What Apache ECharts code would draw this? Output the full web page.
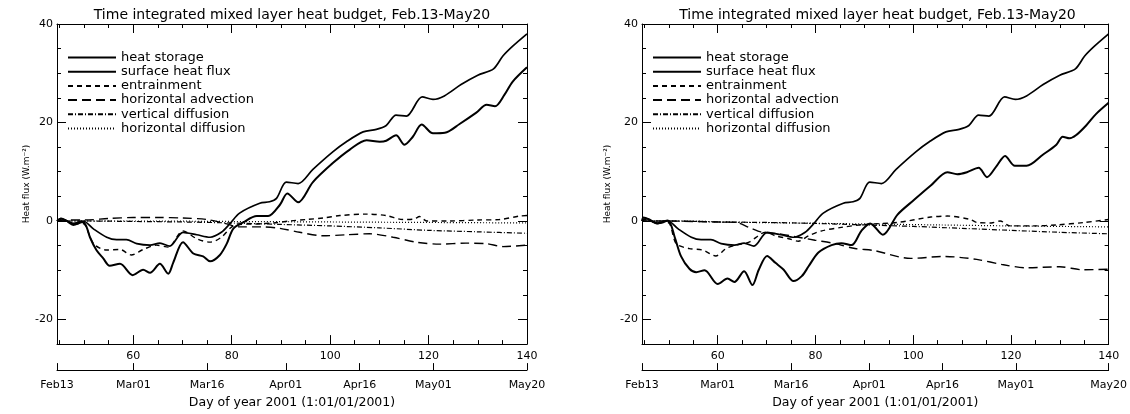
<!DOCTYPE html>
<html><head><meta charset="utf-8">
<script src="https://cdn.jsdelivr.net/npm/echarts@6/dist/echarts.min.js"></script>
<style>html,body{margin:0;padding:0;background:#fff}#c{width:1130px;height:414px}</style>
</head><body><div id="c"></div>
<script>
// ---------- tick / label arrays ----------
const titleText = 'Time integrated mixed layer heat budget, Feb.13-May20';
const yName = 'Heat flux (W.m\u207B\u00B2)';
const xName = 'Day of year 2001 (1:01/01/2001)';
const seriesNames = ['heat storage','surface heat flux','entrainment','horizontal advection','vertical diffusion','horizontal diffusion'];
const dayTicks = [60,80,100,120,140];
const dayMinorTicks = [45,50,55,65,70,75,85,90,95,105,110,115,125,130,135];
const yTicks = [-20,0,20,40];
const yMinorTicks = [-15,-10,-5,5,10,15,25,30,35];
const dateTickDays = [44.5,60,75,91,106,121,140];
const dateTickLabels = ['Feb13','Mar01','Mar16','Apr01','Apr16','May01','May20'];

// ---------- series (day, value) ----------
// surface heat flux (same in both panels)
const sfcDays = [44.5,45.3,46.5,47.8,49.8,51.9,54.6,56.6,58.6,60.7,63.4,65.4,67.4,70.1,72.9,75.6,77.9,79.6,81.6,85.7,87.7,89.1,91.1,93.5,96.5,100.6,103.3,106.7,109.4,111.4,113.4,115.5,118.7,120.9,123.2,126.6,130,133.2,135.1,137.1,140];
const sfcVals = [0,0.5,0,-0.5,0,-1.6,-3.3,-3.8,-3.8,-4.6,-4.9,-4.5,-5.1,-2.3,-2.8,-3.3,-2.3,-0.6,1.6,3.6,3.9,4.6,7.9,7.6,10.5,14.1,16.1,18.1,18.6,19.4,21.5,21.3,25.2,24.7,25.4,27.7,29.6,30.9,33.5,35.5,38.0];

// left panel
const hsLDays = [44.5,45.3,46.5,47.8,49.8,50.5,51.2,52.5,53.9,55.2,57.3,59.9,62,63.4,65.4,67.1,68.1,70.1,72.2,74.2,75.6,77.6,79,80.3,82.3,85.1,87.4,89.8,91.3,93.5,96.5,100.6,104,107.4,110.1,111.4,113.4,115.1,116.8,118.6,120.9,123.3,126.3,129.7,131.8,133.5,135.4,137.1,140];
const hsLVals = [0,0.5,0,-0.8,-0.2,-1.2,-3.3,-5.9,-7.6,-9.1,-8.7,-11.0,-9.9,-10.5,-8.7,-10.7,-8.5,-4.3,-6.6,-7.2,-8.2,-6.9,-4.6,-1.6,-0.3,1.0,1.0,3.3,5.6,3.8,7.9,11.8,14.5,16.4,16.1,16.3,17.4,15.5,17.1,19.6,17.8,17.9,19.7,22.0,23.6,23.3,25.6,28.3,31.2];
const entLDays = [44.5,45.5,47,48.5,49.8,51.9,54.6,57.3,59.6,62,64.7,67.1,70.1,72.9,75.6,77.9,79.9,81.6,85.1,88.5,91.8,95.2,98.6,102,107.4,111.4,114.8,117,118.2,119.6,124,130,134.4,138.5,140];
const entLVals = [0,0.4,-0.3,-0.6,-0.5,-4.6,-5.9,-5.8,-6.9,-5.8,-4.9,-5.3,-2.0,-3.6,-4.3,-3.3,-1.3,-0.7,-0.6,-0.4,0,0.3,0.6,1.1,1.4,1.1,0.3,0.4,0.9,0,0,0.2,0.3,1.0,1.1];
const hadvLDays = [44.5,47,50,55,60,65,70,75,79,81.6,86,89.8,93.8,98.5,103.3,108,112.8,117.5,122.2,127.6,131.7,135.1,140];
const hadvLVals = [0,0.2,0.2,0.5,0.7,0.7,0.6,0.3,-0.6,-1.2,-1.2,-1.5,-2.3,-3.0,-2.8,-2.6,-3.3,-4.3,-4.7,-4.5,-4.6,-5.2,-4.9];
const vdifLDays = [44.5,50,60,70,80,90,100,110,120,130,140];
const vdifLVals = [0,0,-0.1,-0.2,-0.4,-0.7,-1.0,-1.4,-1.9,-2.2,-2.5];
const hdifLDays = [44.5,60,80,100,120,140];
const hdifLVals = [0,0,-0.1,-0.2,-0.3,-0.4];

// right panel
const hsRDays = [44.5,44.8,46,47.5,49.8,51.2,52.5,54.2,55.6,57.3,60,62,63.4,65.4,67.1,68.4,70.1,71.8,73.5,75.5,77.2,78.6,80.6,83.3,85.3,87.4,89.4,91.2,93.8,96.8,100.2,103.6,107,109,111,113.4,115.1,117.1,118.8,120.8,123.2,126.6,129.3,130.6,132,133.3,135.4,137.4,140];
const hsRVals = [0,0.7,0.3,-0.5,0.1,-3.3,-7.2,-9.7,-10.4,-10.0,-12.8,-11.7,-12.4,-10.2,-13.0,-9.9,-7.1,-8.5,-9.9,-12.2,-11.2,-9.2,-6.4,-4.9,-4.5,-4.9,-2.0,-0.5,-2.8,1.3,4.3,7.2,9.9,9.5,9.9,10.8,8.9,11.2,13.2,11.2,11.2,13.5,15.5,17.1,16.8,17.4,19.4,21.7,24.0];
const entRDays = [44.5,45.5,47,49.8,51.5,54.2,56.9,59.6,61.7,63.7,66.4,69.8,71.8,74.5,76.5,78.6,81.3,85.3,90.1,96.8,103.6,107,111.7,113,116,117.8,119.8,125,129.3,135,140];
const entRVals = [0,0.4,-0.3,-0.3,-4.6,-5.6,-5.9,-7.1,-5.6,-4.9,-4.3,-2.3,-3.0,-3.6,-4.1,-3.0,-2.0,-1.3,-0.7,-0.3,0.8,1.0,0.3,-0.3,-0.4,0.0,-1.0,-1.0,-0.8,-0.3,0.3];
const hadvRDays = [44.5,50,55,60,63.7,66.4,69.1,72.5,75.9,79.9,84,88.1,92,99.5,106.3,113,118.5,123.2,130,134.7,140];
const hadvRVals = [0,0,-0.1,-0.2,-0.3,-1.3,-2.3,-2.6,-3.2,-3.9,-4.6,-5.6,-6.0,-7.6,-7.2,-7.8,-8.9,-9.5,-9.3,-9.9,-9.8];
const vdifRDays = [44.5,50,60,70,80,90,100,110,120,130,140];
const vdifRVals = [0,0,-0.2,-0.3,-0.5,-0.8,-1.1,-1.5,-1.9,-2.3,-2.6];
const hdifRDays = [44.5,55,60,75,90,105,120,140];
const hdifRVals = [0,0,-0.2,-0.4,-0.6,-0.8,-1.0,-1.2];

// ---------- build ----------
const FONT = '"DejaVu Sans", sans-serif';
const zip = (d, v) => d.map((x, i) => [x, v[i]]);
const styles = {
  'heat storage': {type: 'solid', width: 2},
  'surface heat flux': {type: 'solid', width: 1.7},
  'entrainment': {type: [5, 4], width: 1.4},
  'horizontal advection': {type: [9, 5], width: 1.4},
  'vertical diffusion': {type: [5, 2, 1, 2], width: 1.2},
  'horizontal diffusion': {type: [1, 2], width: 1.2}
};
const panels = [
  {left: 57, width: 470, data: [zip(hsLDays,hsLVals), zip(sfcDays,sfcVals), zip(entLDays,entLVals), zip(hadvLDays,hadvLVals), zip(vdifLDays,vdifLVals), zip(hdifLDays,hdifLVals)], nameGap: 26},
  {left: 642, width: 471, data: [zip(hsRDays,hsRVals), zip(sfcDays,sfcVals), zip(entRDays,entRVals), zip(hadvRDays,hadvRVals), zip(vdifRDays,vdifRVals), zip(hdifRDays,hdifRVals)], nameGap: 30}
];
const TOP = 24, HEIGHT = 329;
const black = {color: '#000', width: 1};
const grids = [], xAxes = [], yAxes = [], series = [], legends = [], graphics = [];
panels.forEach((p, g) => {
  grids.push({left: p.left, top: TOP, width: p.width, height: HEIGHT});
  const xb = {gridIndex: g, type: 'value', min: 44.5, max: 140, splitLine: {show: false}};
  xAxes.push(Object.assign({}, xb, {position: 'bottom', axisLine: {show: true, onZero: false, lineStyle: black},
    axisTick: {show: true, inside: true, length: 9, customValues: dayTicks, lineStyle: black},
    axisLabel: {show: true, customValues: dayTicks, margin: 7, color: '#000', fontSize: 11, fontFamily: FONT}}));
  xAxes.push(Object.assign({}, xb, {position: 'bottom', axisLine: {show: false, onZero: false},
    axisTick: {show: true, inside: true, length: 4, customValues: dayMinorTicks, lineStyle: black}, axisLabel: {show: false}}));
  xAxes.push(Object.assign({}, xb, {position: 'top', axisLine: {show: true, onZero: false, lineStyle: black},
    axisTick: {show: true, inside: true, length: 9, customValues: dayTicks, lineStyle: black}, axisLabel: {show: false}}));
  xAxes.push(Object.assign({}, xb, {position: 'top', axisLine: {show: false, onZero: false},
    axisTick: {show: true, inside: true, length: 4, customValues: dayMinorTicks, lineStyle: black}, axisLabel: {show: false}}));
  xAxes.push(Object.assign({}, xb, {position: 'bottom', offset: 26, axisLine: {show: true, onZero: false, lineStyle: black},
    axisTick: {show: true, inside: true, length: 7, customValues: dateTickDays, lineStyle: black},
    axisLabel: {show: true, customValues: dateTickDays, margin: 10, color: '#000', fontSize: 11, fontFamily: FONT,
      formatter: v => { const i = dateTickDays.indexOf(v); return i >= 0 ? dateTickLabels[i] : ''; }},
    name: xName, nameLocation: 'middle', nameGap: 25, nameTextStyle: {color: '#000', fontSize: 12.5, fontFamily: FONT}}));
  const yb = {gridIndex: g, type: 'value', min: -25, max: 40, splitLine: {show: false}};
  yAxes.push(Object.assign({}, yb, {position: 'left', axisLine: {show: true, onZero: false, lineStyle: black},
    axisTick: {show: true, inside: true, length: 9, customValues: yTicks, lineStyle: black},
    axisLabel: {show: true, customValues: yTicks, margin: 4, color: '#000', fontSize: 11, fontFamily: FONT},
    name: yName, nameLocation: 'middle', nameGap: p.nameGap, nameRotate: 90, nameTextStyle: {color: '#000', fontSize: 9, fontFamily: FONT}}));
  yAxes.push(Object.assign({}, yb, {position: 'left', axisLine: {show: false, onZero: false},
    axisTick: {show: true, inside: true, length: 4, customValues: yMinorTicks, lineStyle: black}, axisLabel: {show: false}}));
  yAxes.push(Object.assign({}, yb, {position: 'right', axisLine: {show: true, onZero: false, lineStyle: black},
    axisTick: {show: true, inside: true, length: 9, customValues: yTicks, lineStyle: black}, axisLabel: {show: false}}));
  yAxes.push(Object.assign({}, yb, {position: 'right', axisLine: {show: false, onZero: false},
    axisTick: {show: true, inside: true, length: 4, customValues: yMinorTicks, lineStyle: black}, axisLabel: {show: false}}));
  seriesNames.forEach((n, k) => {
    series.push({name: n, type: 'line', xAxisIndex: g * 5, yAxisIndex: g * 4, data: p.data[k],
      symbol: 'none', showSymbol: false, smooth: 0.3, silent: true,
      lineStyle: {color: '#000', width: styles[n].width, type: styles[n].type}, itemStyle: {color: '#000'}});
  });
  legends.push({data: seriesNames, orient: 'vertical', left: p.left + 10, top: 51, itemWidth: 48, itemHeight: 10,
    itemGap: 1.2, padding: 0, selectedMode: false, itemStyle: {opacity: 0},
    textStyle: {color: '#000', fontSize: 13, fontFamily: FONT}});
  graphics.push({type: 'text', x: p.left + p.width / 2, y: 15,
    style: {text: titleText, align: 'center', verticalAlign: 'middle', font: '14px ' + FONT, fill: '#000'}});
});
const chart = echarts.init(document.getElementById('c'), null, {renderer: 'canvas'});
chart.setOption({animation: false, backgroundColor: '#fff', grid: grids, xAxis: xAxes, yAxis: yAxes,
  series: series, legend: legends, graphic: graphics});
</script></body></html>
